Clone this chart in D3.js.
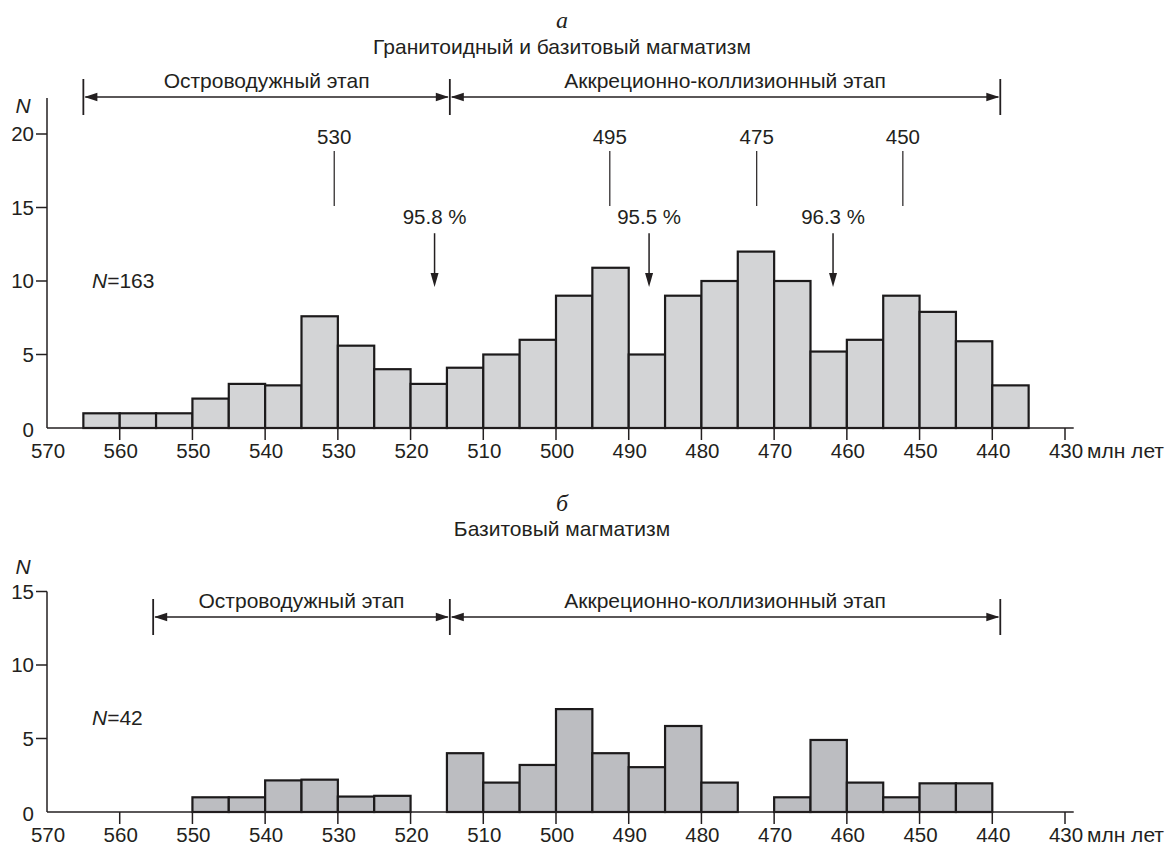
<!DOCTYPE html>
<html><head><meta charset="utf-8">
<script src="https://cdn.jsdelivr.net/npm/d3@7"></script>
<style>
body{margin:0;background:#fff;}
svg text{font-family:"Liberation Sans",Arial,sans-serif;fill:#231f20;}
</style></head><body>
<svg id="c" width="1170" height="847"></svg>
<script>
// ---------- DATA ----------
const xTicks = [570,560,550,540,530,520,510,500,490,480,470,460,450,440,430];
const binWidth = 5;
// Panel a: granitoid + basite magmatism (bin start = older edge, Ma)
const binStartsA = [565,560,555,550,545,540,535,530,525,520,515,510,505,500,495,490,485,480,475,470,465,460,455,450,445,440];
const countsA    = [1,1,1,2,3,2.9,7.6,5.6,4,3,4.1,5,6,9,10.9,5,9,10,12,10,5.2,6,9,7.9,5.9,2.9];
// Panel b: basite magmatism
const binStartsB = [550,545,540,535,530,525,520,515,510,505,500,495,490,485,480,475,470,465,460,455,450,445];
const countsB    = [1,1,2.15,2.2,1.05,1.1,0,4,2,3.2,7,4,3.05,5.85,2,0,1,4.9,2,1,1.95,1.95];
const yTicksA = [0,5,10,15,20];
const yTicksB = [0,5,10,15];
const stageLabels = ["Островодужный этап","Аккреционно-коллизионный этап"];
const stageBoundsA = [565,514.6,438.9];
const stageBoundsB = [555.4,514.6,438.9];
const peakPos = [530.5,492.6,472.4,452.3];
const peakLabels = ["530","495","475","450"];
const pctPos = [516.7,487.2,461.9];
const pctLabels = ["95.8 %","95.5 %","96.3 %"];
const panelLetters = ["а","б"];
const panelTitles = ["Гранитоидный и базитовый магматизм","Базитовый магматизм"];
const nLabels = ["163","42"];
const unitLabel = "млн лет";

// ---------- DRAW ----------
const svg = d3.select("#c");
const ink = "#231f20";
const fsText = "21px", fsNum = "20.5px";
const x = d3.scaleLinear().domain([570,430]).range([47,1065]);
const xAxisEnd = 428.8;

function arrowH(g, tipX, y, dir){ // dir=-1 points left, +1 points right
  const L=13, W=4.2;
  g.append("path").attr("d",`M${tipX},${y}L${tipX-dir*L},${y-W}L${tipX-dir*L},${y+W}Z`).attr("fill",ink);
}

function panel(opt){
  const g = svg.append("g");
  const y = d3.scaleLinear().domain([0,opt.yMax]).range([opt.base, opt.base - opt.yMax*14.7]);
  // titles
  g.append("text").attr("x",562).attr("y",opt.letterY).attr("text-anchor","middle")
    .attr("dy","0.35em").style("font-family","'Liberation Serif','Times New Roman',serif")
    .style("font-style","italic").style("font-size","24px").text(opt.letter);
  g.append("text").attr("x",562).attr("y",opt.titleY).attr("text-anchor","middle")
    .attr("dy","0.35em").style("font-size",fsText).text(opt.title);
  // bars
  g.selectAll("rect.bar").data(opt.starts.map((s,i)=>({s,v:opt.counts[i]})).filter(d=>d.v>0))
    .enter().append("rect")
    .attr("x",d=>x(d.s)).attr("width",d=>x(d.s-binWidth)-x(d.s))
    .attr("y",d=>y(d.v)).attr("height",d=>y(0)-y(d.v))
    .attr("fill",opt.fill).attr("stroke","#1c1a1b").attr("stroke-width",2.2);
  // x axis
  g.append("line").attr("x1",x(570)).attr("x2",x(xAxisEnd)).attr("y1",y(0)).attr("y2",y(0))
    .attr("stroke",ink).attr("stroke-width",1.5);
  g.selectAll("line.xt").data(xTicks.slice(1)).enter().append("line")
    .attr("x1",d=>x(d)).attr("x2",d=>x(d)).attr("y1",y(0)).attr("y2",y(0)+12)
    .attr("stroke",ink).attr("stroke-width",1.5);
  g.selectAll("text.xl").data(xTicks).enter().append("text")
    .attr("x",d=>x(d)+1).attr("y",y(0)+23).attr("dy","0.35em").attr("text-anchor","middle")
    .style("font-size",fsNum).text(d=>d);
  g.append("text").attr("x",x(430)+22).attr("y",y(0)+23).attr("dy","0.35em")
    .style("font-size",fsText).text(unitLabel);
  // y axis
  g.append("line").attr("x1",x(570)).attr("x2",x(570)).attr("y1",y(0)).attr("y2",y(opt.yTop))
    .attr("stroke",ink).attr("stroke-width",1.5);
  g.selectAll("line.yt").data(opt.yTicks.slice(1)).enter().append("line")
    .attr("x1",x(570)-11).attr("x2",x(570)).attr("y1",d=>y(d)).attr("y2",d=>y(d))
    .attr("stroke",ink).attr("stroke-width",1.5);
  g.selectAll("text.yl").data(opt.yTicks).enter().append("text")
    .attr("x",x(570)-13).attr("y",d=>y(d)+ (d===0?2:0)).attr("dy","0.35em").attr("text-anchor","end")
    .style("font-size",fsNum).text(d=>d);
  g.append("text").attr("x",23).attr("y",opt.nAxisY).attr("dy","0.35em").attr("text-anchor","middle")
    .style("font-size",fsText).style("font-style","italic").text("N");
  // N=...
  const nt = g.append("text").attr("x",92).attr("y",opt.nY).attr("dy","0.35em").style("font-size",fsText);
  nt.append("tspan").style("font-style","italic").text("N");
  nt.append("tspan").text("="+opt.n);
  // stage brackets
  const b = opt.bounds, ay = opt.arrowY;
  b.forEach(v=>{
    g.append("line").attr("x1",x(v)).attr("x2",x(v)).attr("y1",ay-18).attr("y2",ay+18)
      .attr("stroke",ink).attr("stroke-width",1.8);
  });
  for(let i=0;i<2;i++){
    const x1=x(b[i]), x2=x(b[i+1]);
    g.append("line").attr("x1",x1+2).attr("x2",x2-2).attr("y1",ay).attr("y2",ay)
      .attr("stroke",ink).attr("stroke-width",1.5);
    arrowH(g,x1+1,ay,-1);
    arrowH(g,x2-1,ay,1);
    g.append("text").attr("x",(x1+x2)/2).attr("y",ay-16).attr("dy","0.35em").attr("text-anchor","middle")
      .style("font-size",fsText).text(stageLabels[i]);
  }
  return {g,y};
}

const A = panel({letter:panelLetters[0],title:panelTitles[0],letterY:20,titleY:47,base:428,yMax:20,yTop:22.45,
  yTicks:yTicksA,starts:binStartsA,counts:countsA,fill:"#d3d4d6",n:nLabels[0],nY:281,nAxisY:106,
  bounds:stageBoundsA,arrowY:97});
const B = panel({letter:panelLetters[1],title:panelTitles[1],letterY:503,titleY:529,base:812,yMax:15,yTop:15,
  yTicks:yTicksB,starts:binStartsB,counts:countsB,fill:"#bcbdc1",n:nLabels[1],nY:718,nAxisY:567,
  bounds:stageBoundsB,arrowY:617});

// peak markers (panel a)
const ga = A.g, ya = A.y;
ga.selectAll("text.pk").data(peakPos).enter().append("text")
  .attr("x",d=>x(d)).attr("y",ya(19.8)).attr("dy","0.35em").attr("text-anchor","middle")
  .style("font-size",fsNum).text((d,i)=>peakLabels[i]);
ga.selectAll("line.pk").data(peakPos).enter().append("line")
  .attr("x1",d=>x(d)).attr("x2",d=>x(d)).attr("y1",ya(18.85)).attr("y2",ya(15.1))
  .attr("stroke",ink).attr("stroke-width",1.2);
// percent arrows
ga.selectAll("text.pc").data(pctPos).enter().append("text")
  .attr("x",d=>x(d)).attr("y",ya(14.35)).attr("dy","0.35em").attr("text-anchor","middle")
  .style("font-size",fsNum).text((d,i)=>pctLabels[i]);
pctPos.forEach(d=>{
  const xx=x(d), y1=ya(13.25), y2=ya(9.6);
  ga.append("line").attr("x1",xx).attr("x2",xx).attr("y1",y1).attr("y2",y2-10).attr("stroke",ink).attr("stroke-width",1.5);
  ga.append("path").attr("d",`M${xx},${y2}L${xx-4},${y2-14}L${xx+4},${y2-14}Z`).attr("fill",ink);
});
</script>
</body></html>
